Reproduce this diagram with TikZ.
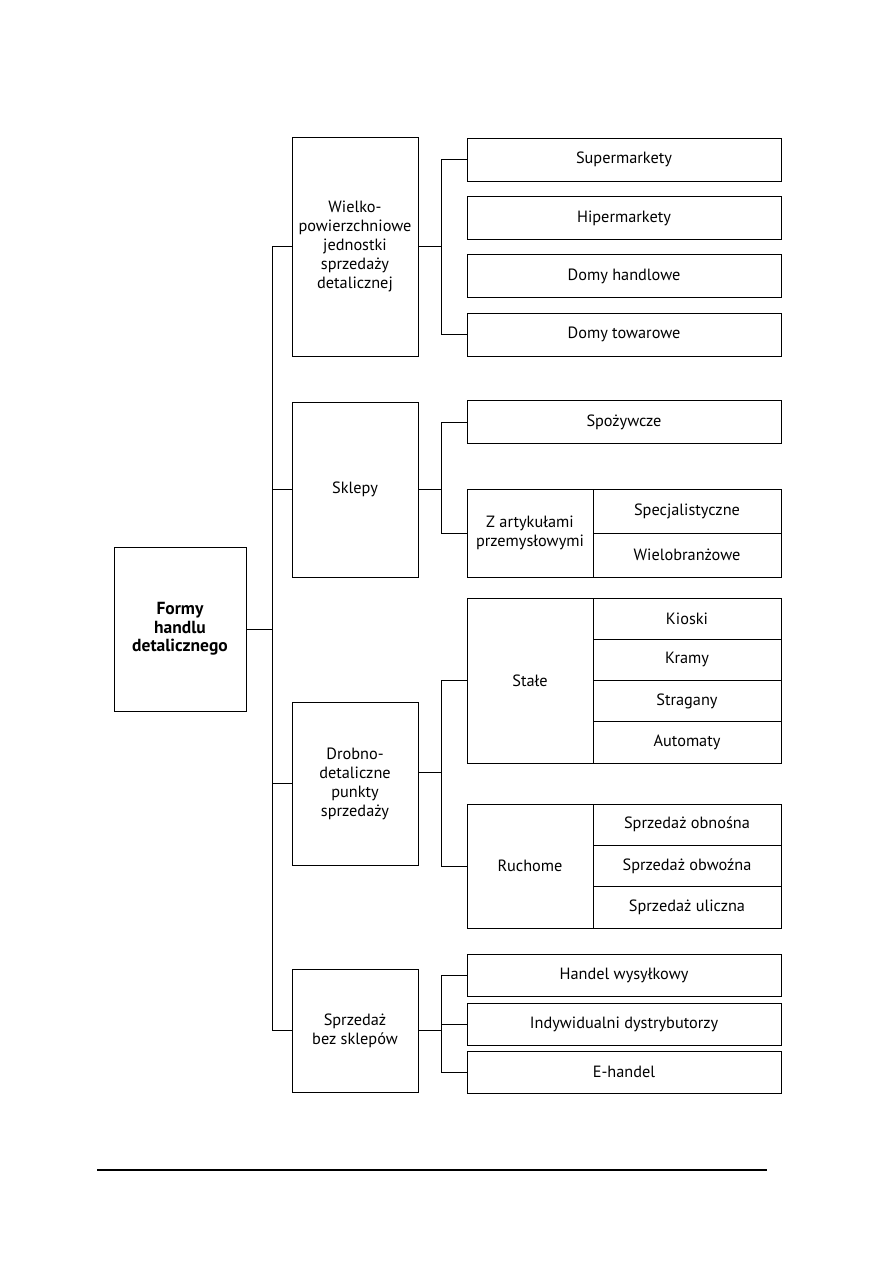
\documentclass[tikz,border=0pt]{standalone}
\usepackage{fontspec}
\setmainfont{PT Sans}
\usetikzlibrary{positioning}

\tikzset{
  box/.style={draw, line width=0.9pt, align=center, inner sep=1pt,
    font=\fontsize{16.3}{19}\selectfont},
  wide/.style={box, minimum width=314},
  cell/.style={box, minimum width=188},
  link/.style={line width=0.9pt},
}

\begin{document}
\begin{tikzpicture}[x=1pt,y=-1pt]
  \useasboundingbox (0,0) rectangle (893,1263);

  % root
  \node[box, minimum width=132, minimum height=164,
    font=\bfseries\fontsize{17.5}{18.6}\selectfont] (root) at (180,629)
    {Formy\\handlu\\detalicznego};

  % level 1
  \node[box, minimum width=126, minimum height=219] (wiel) at (355,246.5)
    {Wielko-\\powierzchniowe\\jednostki\\sprzedaży\\detalicznej};
  \node[box, minimum width=126, minimum height=175] (sklepy) at (355,489.5) {Sklepy};
  \node[box, minimum width=126, minimum height=163] (drobno) at (355,783.5)
    {Drobno-\\detaliczne\\punkty\\sprzedaży};
  \node[box, minimum width=126, minimum height=123] (bez) at (355,1030.5)
    {Sprzedaż\\bez sklepów};

  % level 2, single boxes
  \foreach \name/\y/\text in {super/159.5/Supermarkety, hiper/218/Hipermarkety,
      handl/276/Domy handlowe, towar/334.5/Domy towarowe, spoz/422/Spożywcze} {
    \node[wide, minimum height=43] (\name) at (624,\y) {\text};
  }
  \foreach \name/\y/\text in {wysyl/975/Handel wysyłkowy,
      indyw/1024/Indywidualni dystrybutorzy, ehandel/1072/E-handel} {
    \node[wide, minimum height=42] (\name) at (624,\y) {\text};
  }

  % level 2, split boxes
  \node[box, minimum width=126, minimum height=88] (artyk) at (530,533)
    {Z artykułami\\przemysłowymi};
  \foreach \name/\i/\text in {spec/0/Specjalistyczne, wielob/1/Wielobranżowe} {
    \node[cell, minimum height=44] (\name) at (687,{489+22+\i*44}) {\text};
  }

  \node[box, minimum width=126, minimum height=165] (stale) at (530,680.5) {Stałe};
  \foreach \name/\i/\text in {kioski/0/Kioski, kramy/1/Kramy,
      strag/2/Stragany, autom/3/Automaty} {
    \node[cell, minimum height=41.25] (\name) at (687,{598+20.625+\i*41.25}) {\text};
  }

  \node[box, minimum width=126, minimum height=124] (ruch) at (530,866) {Ruchome};
  \foreach \name/\i/\text in {obnos/0/Sprzedaż obnośna, obwoz/1/Sprzedaż obwoźna,
      ulic/2/Sprzedaż uliczna} {
    \node[cell, minimum height=41.33] (\name) at (687,{804+20.67+\i*41.33}) {\text};
  }

  % connectors
  \coordinate (trunk) at (272,629);
  \coordinate (fork) at (441,0);

  \draw[link] (root.east) -- (trunk);
  \draw[link] (wiel.west) -- (wiel.west -| trunk) |- (bez.west);
  \draw[link] (sklepy.west) -- (sklepy.west -| trunk);
  \draw[link] (drobno.west) -- (drobno.west -| trunk);

  \draw[link] (wiel.east) -- (wiel.east -| fork);
  \draw[link] (super.west) -- (super.west -| fork) -- (towar.west -| fork) -- (towar.west);

  \draw[link] (sklepy.east) -- (sklepy.east -| fork);
  \draw[link] (spoz.west) -- (spoz.west -| fork) -- (artyk.west -| fork) -- (artyk.west);

  \draw[link] ([yshift=11pt]drobno.east) -- ([yshift=11pt]drobno.east -| fork);
  \draw[link] (stale.west) -- (stale.west -| fork) -- (ruch.west -| fork) -- (ruch.west);

  \draw[link] (bez.east) -- (bez.east -| fork);
  \draw[link] (wysyl.west) -- (wysyl.west -| fork) -- (ehandel.west -| fork) -- (ehandel.west);
  \draw[link] (indyw.west) -- (indyw.west -| fork);

  % footer rule
  \draw[line width=1.3pt] (97,1170) -- (767,1170);
\end{tikzpicture}
\end{document}
